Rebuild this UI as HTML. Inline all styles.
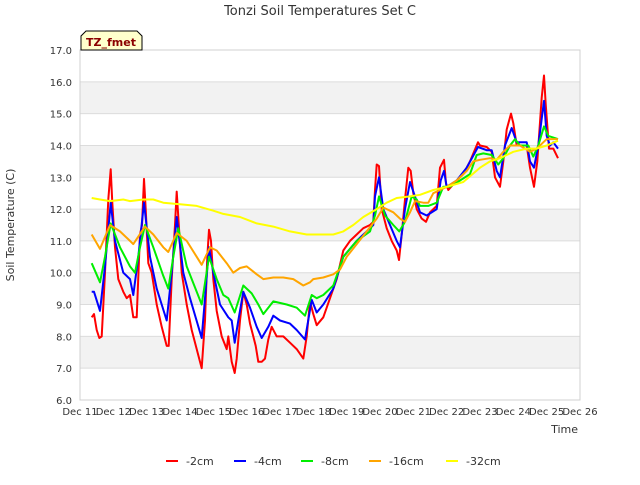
<!DOCTYPE html>
<html><head><meta charset="utf-8"><style>
body{margin:0;background:#fff;font-family:"Liberation Sans","DejaVu Sans",sans-serif;}
svg text{font-family:"DejaVu Sans","Liberation Sans",sans-serif;}
</style></head><body>
<svg id="chart" width="640" height="480" xmlns="http://www.w3.org/2000/svg">
<rect width="640" height="480" fill="#fff"/>
<g id="bands"></g><g id="grid"></g><g id="series"></g><g id="axes"></g>
<text x="320" y="15" text-anchor="middle" font-size="13" fill="#333">Tonzi Soil Temperatures Set C</text>
<text x="14" y="225" text-anchor="middle" font-size="11" fill="#333" transform="rotate(-90 14 225)">Soil Temperature (C)</text>
<text x="578" y="433" text-anchor="end" font-size="11" fill="#333">Time</text>
<g>
<path d="M81,50 L81,36 L86,31 L137,31 L142,36 L142,50 Z" fill="#ffffcc" stroke="#000" stroke-width="1"/>
<text x="111" y="46" text-anchor="middle" font-size="11" font-weight="bold" fill="#8b0000">TZ_fmet</text>
</g>
<g id="legend"></g>
</svg>
<script>
const yTicks=[6,7,8,9,10,11,12,13,14,15,16,17];
const xTickDays=[11,12,13,14,15,16,17,18,19,20,21,22,23,24,25,26];
const seriesNames=["-2cm","-4cm","-8cm","-16cm","-32cm"];
const seriesColors=["#ff0000","#0000ff","#00ee00","#ffa500","#ffff00"];
const s2cm=[[11.35,8.6],[11.42,8.7],[11.5,8.2],[11.58,7.95],[11.65,8.0],[11.75,10.0],[11.85,12.3],[11.92,13.25],[11.97,12.2],[12.05,10.8],[12.15,9.8],[12.3,9.4],[12.4,9.2],[12.5,9.3],[12.6,8.6],[12.7,8.6],[12.8,11.2],[12.86,11.5],[12.92,12.95],[12.97,12.0],[13.05,10.3],[13.15,10.0],[13.3,9.0],[13.45,8.3],[13.6,7.7],[13.66,7.7],[13.75,9.8],[13.85,11.5],[13.9,12.55],[13.97,11.4],[14.05,10.0],[14.2,9.0],[14.35,8.2],[14.5,7.6],[14.65,7.0],[14.75,8.5],[14.82,10.5],[14.87,11.35],[14.93,11.0],[15.0,9.8],[15.1,8.8],[15.25,8.0],[15.4,7.6],[15.45,8.0],[15.55,7.2],[15.64,6.85],[15.7,7.3],[15.8,8.5],[15.9,9.4],[16.0,9.0],[16.1,8.4],[16.2,8.0],[16.27,7.7],[16.35,7.2],[16.45,7.2],[16.55,7.3],[16.65,7.9],[16.75,8.3],[16.9,8.0],[17.1,8.0],[17.3,7.8],[17.5,7.6],[17.7,7.3],[17.8,8.0],[17.9,9.1],[18.0,8.7],[18.1,8.35],[18.3,8.6],[18.5,9.2],[18.7,9.8],[18.9,10.7],[19.1,11.0],[19.3,11.2],[19.5,11.4],[19.7,11.5],[19.8,11.6],[19.85,12.6],[19.9,13.4],[19.97,13.35],[20.05,12.0],[20.2,11.4],[20.35,11.0],[20.5,10.7],[20.57,10.4],[20.65,11.2],[20.75,12.3],[20.85,13.3],[20.92,13.2],[21.0,12.5],[21.1,12.0],[21.25,11.7],[21.38,11.6],[21.5,11.9],[21.7,12.1],[21.8,13.3],[21.92,13.55],[21.98,12.8],[22.05,12.6],[22.3,12.9],[22.5,13.1],[22.7,13.5],[22.94,14.1],[23.0,14.0],[23.2,13.95],[23.35,13.8],[23.45,13.0],[23.6,12.7],[23.7,13.5],[23.8,14.5],[23.93,15.0],[24.0,14.7],[24.1,14.0],[24.2,14.0],[24.4,14.0],[24.5,13.3],[24.62,12.7],[24.72,13.5],[24.85,15.5],[24.92,16.2],[24.97,15.3],[25.07,13.9],[25.2,13.9],[25.34,13.6]];
const s4cm=[[11.35,9.4],[11.42,9.4],[11.6,8.8],[11.75,10.2],[11.92,12.2],[12.05,11.0],[12.3,10.0],[12.5,9.8],[12.6,9.3],[12.75,10.5],[12.92,12.2],[13.1,10.5],[13.3,9.5],[13.6,8.5],[13.75,10.0],[13.9,11.75],[14.1,10.0],[14.3,9.2],[14.65,7.95],[14.75,9.2],[14.87,10.8],[15.0,10.0],[15.2,9.0],[15.45,8.6],[15.55,8.5],[15.64,7.8],[15.75,8.5],[15.9,9.4],[16.1,8.9],[16.3,8.3],[16.45,7.95],[16.65,8.3],[16.8,8.65],[17.0,8.5],[17.3,8.4],[17.5,8.2],[17.75,7.9],[17.95,9.15],[18.1,8.75],[18.3,9.0],[18.6,9.5],[18.9,10.5],[19.3,11.0],[19.7,11.4],[19.8,11.5],[19.85,12.4],[19.97,13.0],[20.1,12.0],[20.3,11.5],[20.5,11.0],[20.6,10.8],[20.75,12.0],[20.9,12.85],[21.05,12.4],[21.2,11.9],[21.4,11.8],[21.7,12.0],[21.82,12.9],[21.92,13.2],[22.0,12.7],[22.3,12.9],[22.6,13.3],[22.94,13.95],[23.2,13.85],[23.35,13.85],[23.5,13.2],[23.6,13.0],[23.75,14.0],[23.95,14.55],[24.1,14.1],[24.2,14.1],[24.4,14.1],[24.5,13.5],[24.62,13.3],[24.75,14.0],[24.92,15.4],[25.0,14.3],[25.1,14.0],[25.2,14.1],[25.34,13.9]];
const s8cm=[[11.35,10.3],[11.6,9.7],[11.75,10.5],[11.92,11.55],[12.2,10.8],[12.5,10.2],[12.65,10.0],[12.8,10.8],[12.95,11.5],[13.2,10.8],[13.5,9.9],[13.65,9.5],[13.8,10.5],[13.95,11.4],[14.2,10.2],[14.5,9.4],[14.65,9.0],[14.87,10.5],[15.1,9.8],[15.3,9.3],[15.45,9.2],[15.64,8.75],[15.9,9.6],[16.15,9.35],[16.35,9.0],[16.5,8.7],[16.8,9.1],[17.2,9.0],[17.5,8.9],[17.75,8.65],[17.95,9.3],[18.1,9.2],[18.3,9.3],[18.6,9.6],[18.9,10.5],[19.3,11.0],[19.7,11.3],[19.85,11.8],[19.97,12.4],[20.15,11.8],[20.4,11.5],[20.58,11.3],[20.75,11.6],[20.95,12.4],[21.1,12.3],[21.2,12.1],[21.45,12.1],[21.7,12.2],[21.9,12.7],[22.1,12.7],[22.4,12.9],[22.7,13.1],[22.9,13.7],[23.1,13.75],[23.35,13.7],[23.55,13.4],[23.7,13.6],[23.9,14.0],[24.05,14.2],[24.2,14.0],[24.45,14.0],[24.6,13.65],[24.75,14.0],[24.92,14.6],[25.05,14.3],[25.34,14.2]];
const s16cm=[[11.35,11.2],[11.6,10.75],[11.9,11.5],[12.2,11.3],[12.5,11.0],[12.6,10.9],[12.95,11.45],[13.2,11.2],[13.5,10.8],[13.65,10.65],[13.9,11.25],[14.2,11.0],[14.5,10.5],[14.65,10.25],[14.9,10.8],[15.1,10.7],[15.4,10.3],[15.6,10.0],[15.8,10.15],[16.0,10.2],[16.3,9.95],[16.5,9.8],[16.8,9.85],[17.1,9.85],[17.4,9.8],[17.7,9.6],[17.9,9.7],[18.0,9.8],[18.3,9.85],[18.6,9.95],[18.8,10.1],[19.0,10.5],[19.3,10.9],[19.6,11.3],[19.9,11.7],[20.1,12.05],[20.4,11.9],[20.6,11.7],[20.75,11.6],[20.9,11.9],[21.05,12.25],[21.3,12.2],[21.45,12.2],[21.6,12.5],[21.8,12.6],[22.0,12.7],[22.3,12.9],[22.6,13.2],[22.8,13.5],[23.0,13.55],[23.3,13.6],[23.5,13.55],[23.7,13.8],[23.9,14.0],[24.2,14.0],[24.5,13.8],[24.7,13.9],[24.9,14.1],[25.0,14.2],[25.34,14.2]];
const s32cm=[[11.35,12.35],[11.6,12.3],[11.9,12.25],[12.3,12.3],[12.5,12.25],[12.9,12.3],[13.2,12.3],[13.5,12.2],[14.0,12.15],[14.5,12.1],[15.0,11.95],[15.3,11.85],[15.8,11.75],[16.3,11.55],[16.8,11.45],[17.3,11.3],[17.8,11.2],[18.2,11.2],[18.6,11.2],[18.9,11.3],[19.2,11.5],[19.5,11.75],[19.9,12.0],[20.2,12.2],[20.5,12.35],[20.9,12.4],[21.2,12.45],[21.6,12.6],[22.0,12.7],[22.5,12.85],[23.0,13.3],[23.3,13.5],[23.6,13.6],[24.0,13.8],[24.4,13.9],[24.7,13.9],[25.0,14.0],[25.34,14.15]];
const allSeries=[s2cm,s4cm,s8cm,s16cm,s32cm];

const L=80,R=580,T=50,B=400,X0=11,X1=26,Y0=6,Y1=17;
function xs(d){return L+(d-X0)/(X1-X0)*(R-L);}
function ys(v){return B-(v-Y0)/(Y1-Y0)*(B-T);}
const NS="http://www.w3.org/2000/svg";
function mk(tag,attrs,parent){const e=document.createElementNS(NS,tag);for(const k in attrs)e.setAttribute(k,attrs[k]);parent.appendChild(e);return e;}
const bands=document.getElementById('bands'),grid=document.getElementById('grid'),axes=document.getElementById('axes'),ser=document.getElementById('series'),leg=document.getElementById('legend');
for(let i=0;i<yTicks.length-1;i++){
  if(i%2===1){const r=mk('rect',{x:L,y:ys(yTicks[i+1]),width:R-L,height:ys(yTicks[i])-ys(yTicks[i+1]),fill:'#f2f2f2'},bands);
  
  }
}
yTicks.forEach(v=>{
  const l=mk('line',{x1:L,x2:R,y1:ys(v),y2:ys(v),stroke:'#dcdcdc','stroke-width':1},grid);
  
  
  const t=mk('text',{x:L-8,y:ys(v)+4,'text-anchor':'end','font-size':10,fill:'#333'},axes);
  t.textContent=v.toFixed(1);
  
  
});
mk('rect',{x:L,y:T,width:R-L,height:B-T,fill:'none',stroke:'#d0d0d0','stroke-width':1},axes);
xTickDays.forEach(d=>{
  const t=mk('text',{x:xs(d),y:B+15,'text-anchor':'middle','font-size':10,fill:'#333'},axes);
  t.textContent='Dec '+d;
  
  
});
allSeries.forEach((s,i)=>{
  const p=mk('polyline',{points:s.map(q=>xs(q[0]).toFixed(1)+','+ys(q[1]).toFixed(1)).join(' '),fill:'none',stroke:seriesColors[i],'stroke-width':2,'stroke-linejoin':'round'},ser);
  
  
});
const legX=[166,234,301,369,446];
seriesNames.forEach((n,i)=>{
  const g=mk('g',{},leg);
  
  
  mk('line',{x1:legX[i],x2:legX[i]+12,y1:461,y2:461,stroke:seriesColors[i],'stroke-width':2},g);
  const t=mk('text',{x:legX[i]+20,y:465,'font-size':11,fill:'#333'},g);
  t.textContent=n;
});
</script>
</body></html>
